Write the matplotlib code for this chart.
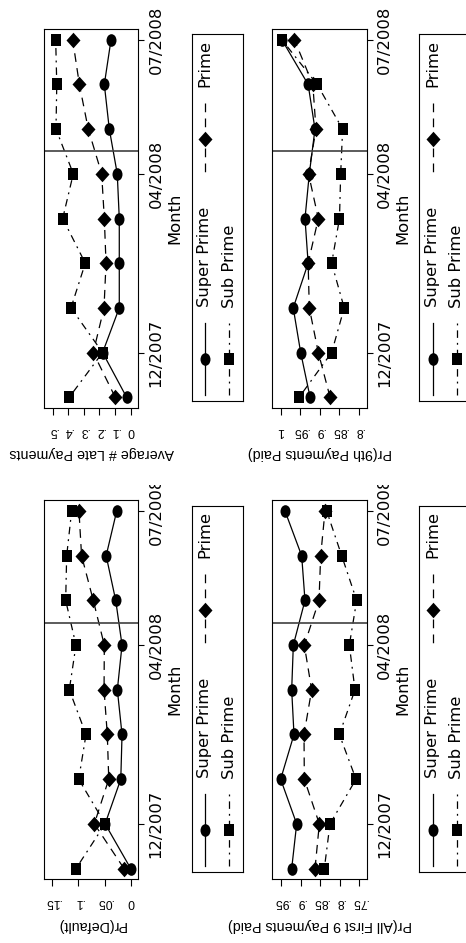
import numpy as np
import matplotlib
matplotlib.use("Agg")
import matplotlib.pyplot as plt
from matplotlib.path import Path
from matplotlib.transforms import Bbox, TransformedBbox
from matplotlib import font_manager

# ── Data (monthly, 11/2007 .. 07/2008) ───────────────────────────────────

MONTHS = ["11/2007", "12/2007", "01/2008", "02/2008", "03/2008",
          "04/2008", "05/2008", "06/2008", "07/2008"]
TICK_MONTHS = ["12/2007", "04/2008", "07/2008"]
SERIES = ["Super Prime", "Prime", "Sub Prime"]

late_super = [0.026, 0.180, 0.073, 0.073, 0.073, 0.086, 0.137, 0.169, 0.126]
late_prime = [0.099, 0.240, 0.171, 0.158, 0.169, 0.186, 0.272, 0.329, 0.372]
late_sub   = [0.394, 0.180, 0.383, 0.291, 0.436, 0.368, 0.479, 0.474, 0.481]

ninth_super = [0.925, 0.949, 0.968, 0.930, 0.938, 0.927, 0.9125, 0.930, 0.997]
ninth_prime = [0.874, 0.904, 0.927, 0.930, 0.904, 0.929, 0.910, 0.918, 0.965]
ninth_sub   = [0.953, 0.870, 0.838, 0.870, 0.850, 0.847, 0.842, 0.907, 0.997]

default_super = [0.000, 0.049, 0.019, 0.0166, 0.0256, 0.0166, 0.0287, 0.047, 0.0268]
default_prime = [0.0128, 0.0696, 0.042, 0.0448, 0.051, 0.0505, 0.0716, 0.094, 0.099]
default_sub   = [0.1047, 0.049, 0.0995, 0.0855, 0.1175, 0.1047, 0.1244, 0.1225, 0.113]

all9_super = [0.9226, 0.9098, 0.9509, 0.9167, 0.9226, 0.9184, 0.8885, 0.897, 0.9397]
all9_prime = [0.8628, 0.8517, 0.8902, 0.891, 0.8714, 0.8902, 0.8526, 0.8483, 0.8372]
all9_sub   = [0.8389, 0.8244, 0.7577, 0.8004, 0.7603, 0.7748, 0.756, 0.7944, 0.8329]

late_ticks = [0, 0.1, 0.2, 0.3, 0.4, 0.5]
late_labels = ["0", ".1", ".2", ".3", ".4", ".5"]
ninth_ticks = [0.8, 0.85, 0.9, 0.95, 1.0]
ninth_labels = [".8", ".85", ".9", ".95", "1"]
default_ticks = [0, 0.05, 0.1, 0.15]
default_labels = ["0", ".05", ".1", ".15"]
all9_ticks = [0.75, 0.8, 0.85, 0.9, 0.95]
all9_labels = [".75", ".8", ".85", ".9", ".95"]

# ── Geometry (pixels of the rotated 466x943 page) ────────────────────────

W, H = 466, 943
COL_X = [(44.3, 138.3), (272.3, 366.7)]
ROW_Y = [(29.0, 408.0), (500.3, 879.3)]
LEG_X = [(191.5, 243.3), (419.0, 470.8)]
LEG_Y = [(34.3, 401.0), (505.5, 872.2)]
CLIP_Y = 485.0
XLABEL_GAP = 38.5      # panel edge to top of the value-axis label
MONTH_GAP = 36.5       # panel edge to centre of the "Month" label

# ── Fonts ─────────────────────────────────────────────────────────────────

_names = {f.name for f in font_manager.fontManager.ttflist}
NARROW = "Liberation Sans Narrow" if "Liberation Sans Narrow" in _names else "Liberation Sans"
TICK_SIZE = 10.0 if NARROW == "Liberation Sans Narrow" else 8.8
UP_FONT = "DejaVu Sans"
UP_SIZE = 11.8
LABEL_FONT = "Liberation Sans"
LABEL_SIZE = 10.3


# ── Markers (slightly tall, like the stretched original) ──────────────────

def ellipse_marker(aspect):
    c = Path.unit_circle()
    return Path(c.vertices * [aspect, 1.0], c.codes)


def poly_marker(pts):
    pts = list(pts) + [pts[0]]
    codes = [Path.MOVETO] + [Path.LINETO] * (len(pts) - 2) + [Path.CLOSEPOLY]
    return Path(pts, codes)


MK_CIRCLE = ellipse_marker(0.79)
MK_SQUARE = poly_marker([(-0.84, -1), (0.84, -1), (0.84, 1), (-0.84, 1)])
MK_DIAMOND = poly_marker([(0, -1), (0.9, 0), (0, 1), (-0.9, 0)])

STYLE = {
    "Super Prime": dict(ls="-", marker=MK_CIRCLE, ms=9.1),
    "Prime":       dict(ls=(0, (7, 5)), marker=MK_DIAMOND, ms=11.2),
    "Sub Prime":   dict(ls=(0, (1.5, 4, 6, 4)), marker=MK_SQUARE, ms=8.9),
}


def frac_rect(x0, x1, y0, y1):
    return [x0 / W, 1 - y1 / H, (x1 - x0) / W, (y1 - y0) / H]


def plot_panel(fig, col, row, series, xlim, ticks, labels, ylabel):
    (x0, x1), (y0, y1) = COL_X[col], ROW_Y[row]
    ax = fig.add_axes(frac_rect(x0, x1, y0, y1))
    months = np.arange(len(MONTHS))
    for name, vals in zip(SERIES, series):
        st = STYLE[name]
        ax.plot(vals, months, color="black", lw=0.9, ls=st["ls"],
                marker=st["marker"], ms=st["ms"], mfc="black", mec="black", mew=0)
    ax.axhline(MONTHS.index("04/2008") + 0.5, color="#404040", lw=1.2)

    ax.set_xlim(*xlim)
    ax.set_ylim(-0.24, len(MONTHS) - 1 + 0.24)

    ax.set_xticks(ticks)
    ax.set_xticklabels(labels, fontsize=TICK_SIZE, family=NARROW)
    ax.tick_params(axis="x", direction="out", length=5, width=0.8, pad=7,
                   labelrotation=180)

    ax.yaxis.tick_right()
    ax.set_yticks([MONTHS.index(m) for m in TICK_MONTHS])
    ax.set_yticklabels(TICK_MONTHS, fontsize=UP_SIZE, family=UP_FONT)
    ax.tick_params(axis="y", direction="out", length=4.3, width=0.8, pad=3,
                   labelrotation=90)
    for lab in ax.get_yticklabels():
        lab.set_va("center")
        if row == 1:
            # the original clips the right-hand date at its figure region
            clip = TransformedBbox(Bbox.from_extents(0, 0, 1, 1 - CLIP_Y / H),
                                   fig.transFigure)
            lab.set_clip_box(clip)
            lab.set_clip_on(True)

    ax.set_xlabel(ylabel, rotation=180, fontsize=LABEL_SIZE, family=LABEL_FONT)
    ax.xaxis.set_label_coords(0.5, -XLABEL_GAP / (y1 - y0))

    ax.yaxis.set_label_position("right")
    ax.set_ylabel("Month", rotation=90, rotation_mode="default", va="center",
                  ha="center", fontsize=UP_SIZE, family=UP_FONT)
    ax.yaxis.set_label_coords(1 + MONTH_GAP / (x1 - x0), 0.5)

    for sp in ax.spines.values():
        sp.set_linewidth(0.8)
    return ax


def draw_legend(fig, col, row):
    (x0, x1), (y0, y1) = LEG_X[col], LEG_Y[row]
    ax = fig.add_axes(frac_rect(x0, x1, y0, y1))
    ax.set_xlim(0, x1 - x0)
    ax.set_ylim(y1 - y0, 0)
    ax.set_xticks([])
    ax.set_yticks([])
    for sp in ax.spines.values():
        sp.set_linewidth(0.8)

    # (label, column offset, key span, text start) in legend pixels
    layout = [
        ("Super Prime", 13.5, (288.7, 360.7), 272.7),
        ("Sub Prime",   37.8, (288.7, 360.7), 273.5),
        ("Prime",       13.5, (68.7, 140.7), 52.7),
    ]
    for name, lx, (k0, k1), ty in layout:
        st = STYLE[name]
        ax.plot([lx, lx], [k0, k1], color="black", lw=0.9, ls=st["ls"])
        ax.plot([lx], [(k0 + k1) / 2], color="black", marker=st["marker"],
                ms=st["ms"], mew=0, ls="none")
        ax.text(lx, ty, name, rotation=90, ha="center", va="bottom",
                fontsize=UP_SIZE, family=UP_FONT)


def main():
    fig = plt.figure(figsize=(W / 100, H / 100), dpi=100)

    plot_panel(fig, 0, 0, [late_super, late_prime, late_sub],
               (0.554, -0.049), late_ticks, late_labels, "Average # Late Payments")
    plot_panel(fig, 1, 0, [ninth_super, ninth_prime, ninth_sub],
               (1.0214, 0.7806), ninth_ticks, ninth_labels, "Pr(9th Payments Paid)")
    plot_panel(fig, 0, 1, [default_super, default_prime, default_sub],
               (0.1653, -0.0145), default_ticks, default_labels, "Pr(Default)")
    plot_panel(fig, 1, 1, [all9_super, all9_prime, all9_sub],
               (0.9723, 0.7303), all9_ticks, all9_labels, "Pr(All First 9 Payments Paid)")

    for col in range(2):
        for row in range(2):
            draw_legend(fig, col, row)

    fig.savefig("out.png", dpi=100, facecolor="white")
    plt.close(fig)


if __name__ == "__main__":
    main()
